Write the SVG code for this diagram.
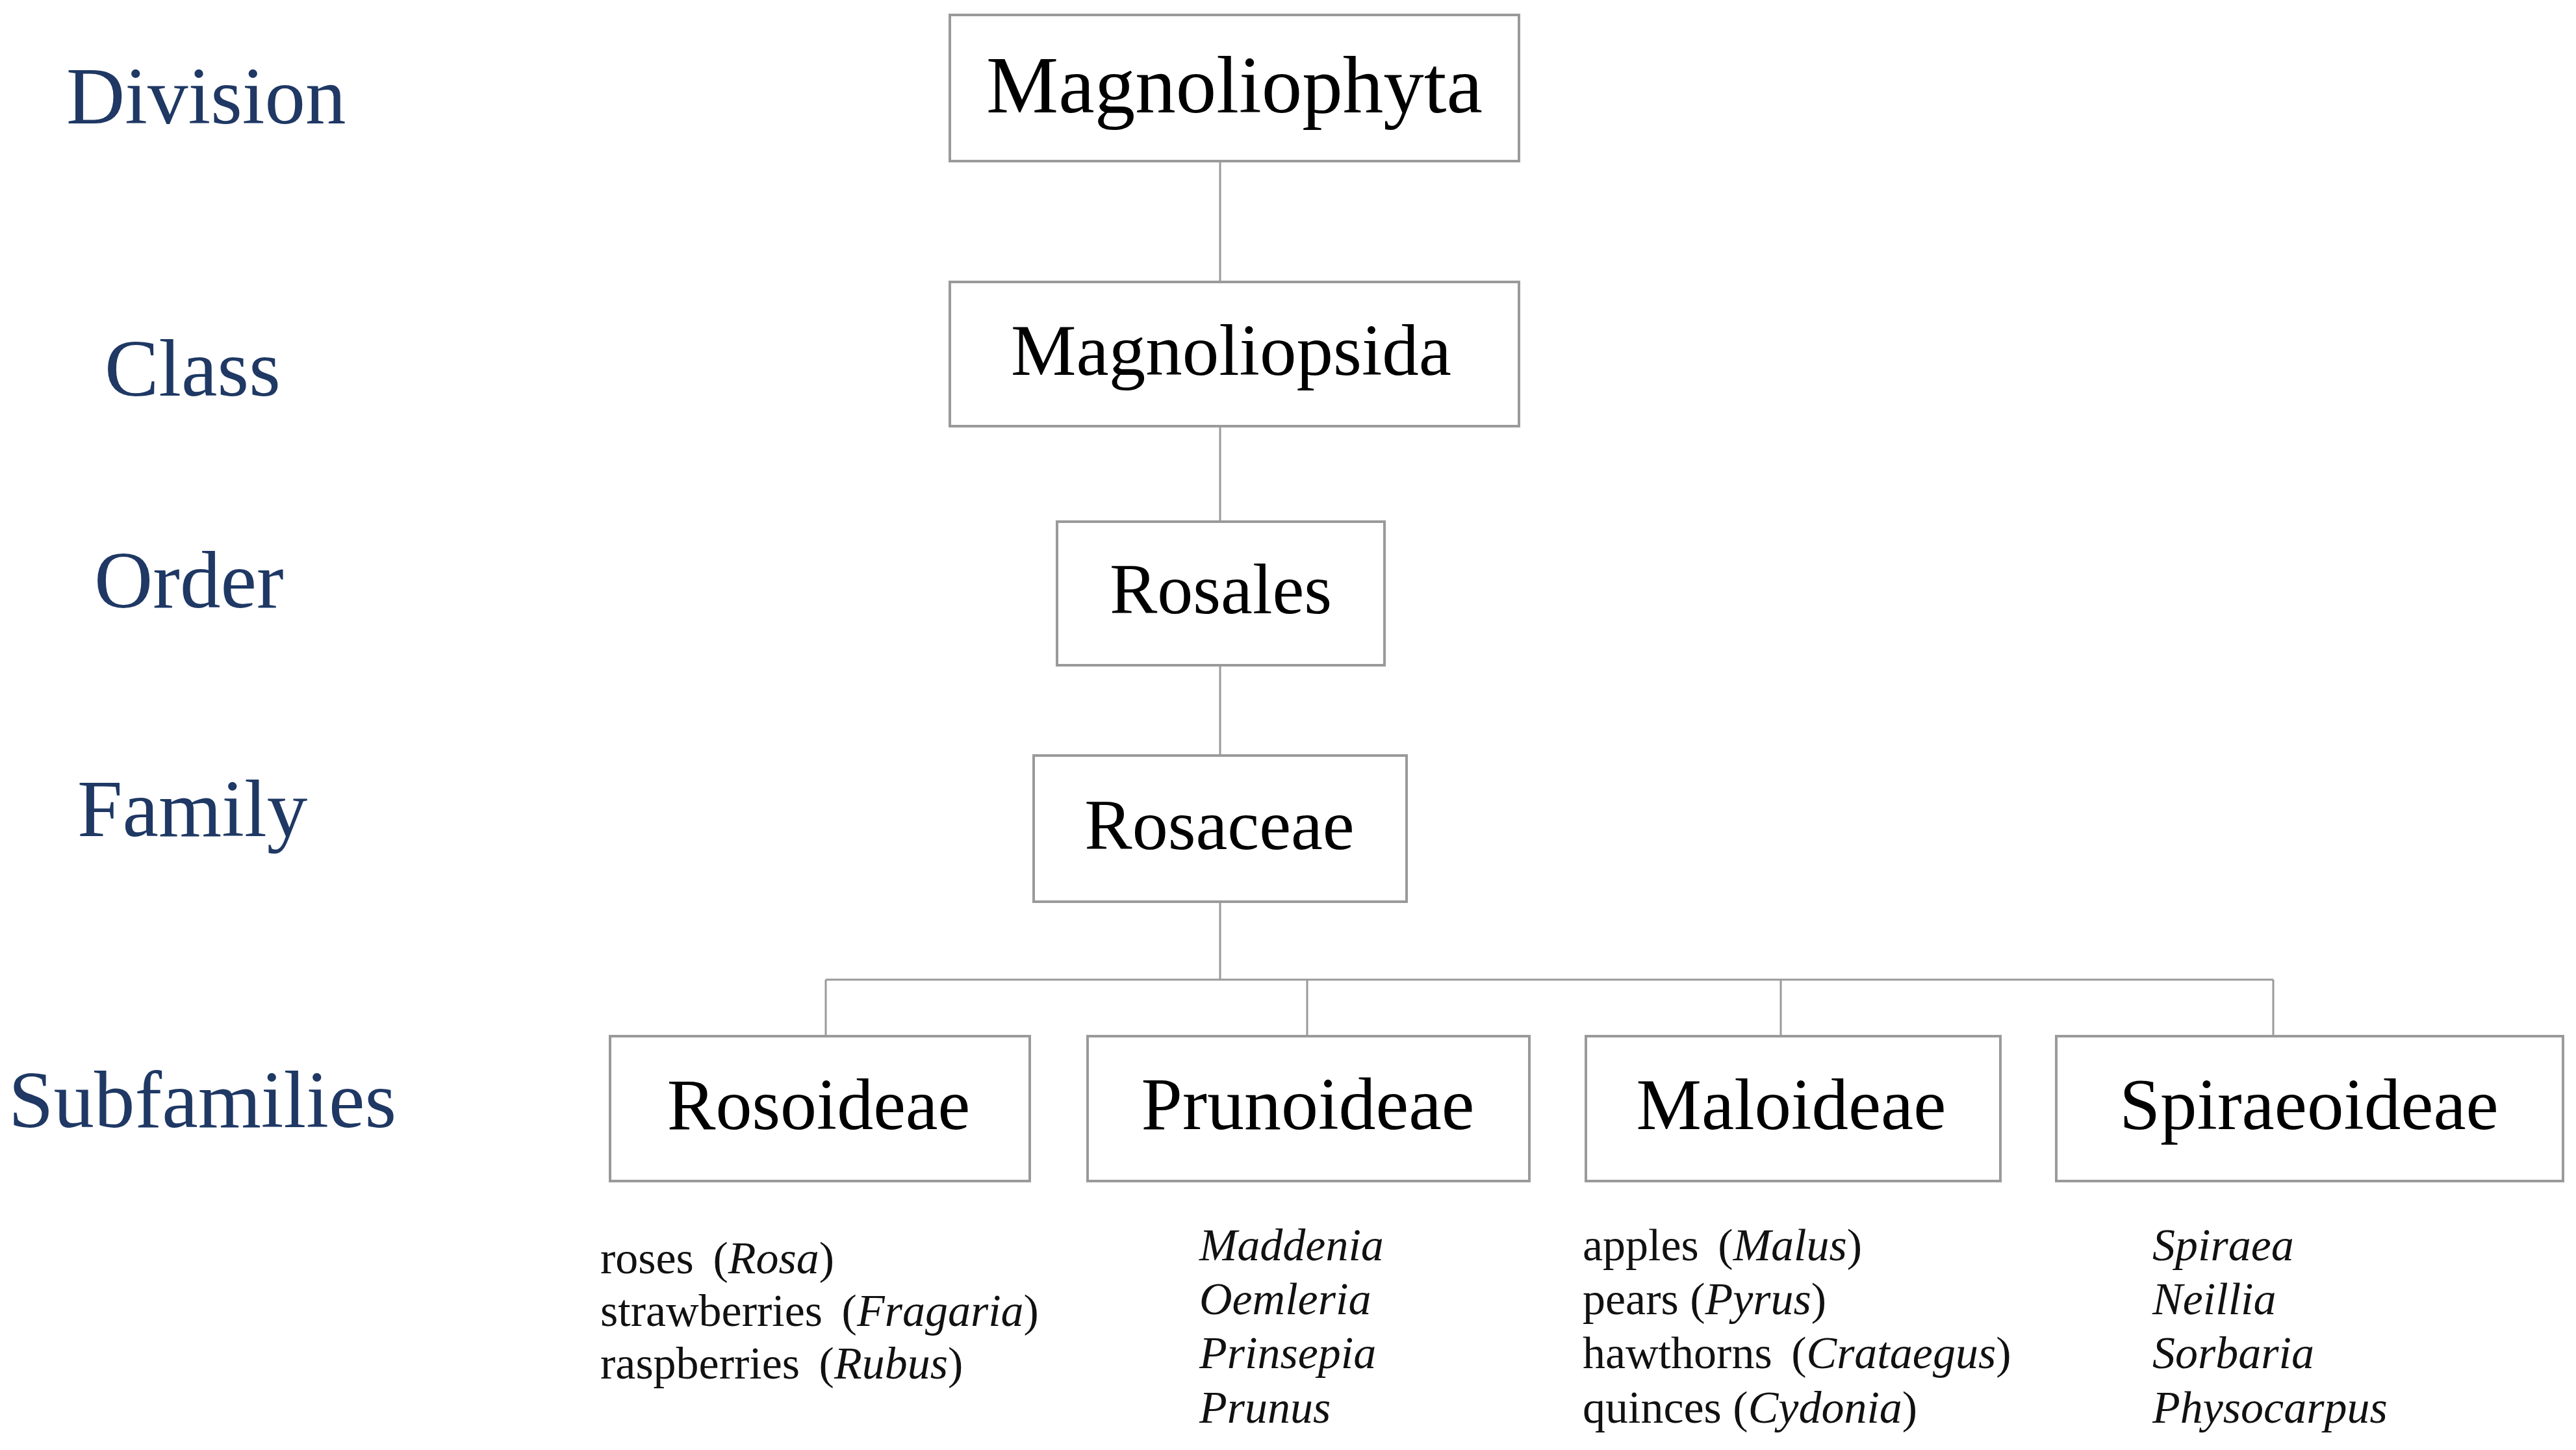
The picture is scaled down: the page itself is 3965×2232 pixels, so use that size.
<svg xmlns="http://www.w3.org/2000/svg" width="3965" height="2232" viewBox="0 0 3965 2232">
  <style>
    .box { fill: #ffffff; stroke: #9a9a9a; stroke-width: 4; }
    .conn { fill: none; stroke: #9a9a9a; stroke-width: 3; }
    .rank { font-family: "Liberation Serif", "Times New Roman", serif; font-size: 125px; fill: #1f3864; }
    .name { font-family: "Liberation Serif", "Times New Roman", serif; fill: #000000; text-anchor: middle; }
    .list { font-family: "Liberation Serif", "Times New Roman", serif; font-size: 70px; fill: #111111; }
    .it { font-style: italic; }
  </style>
  <rect width="3965" height="2232" fill="#ffffff"/>

  <g id="rank-labels">
    <text class="rank" x="102" y="190">Division</text>
    <text class="rank" x="161" y="609">Class</text>
    <text class="rank" x="145" y="935">Order</text>
    <text class="rank" x="119" y="1287">Family</text>
    <text class="rank" x="13" y="1735">Subfamilies</text>
  </g>

  <g id="connectors">
    <line class="conn" x1="1878" y1="248" x2="1878" y2="434"/>
    <line class="conn" x1="1878" y1="656" x2="1878" y2="803"/>
    <line class="conn" x1="1878" y1="1024" x2="1878" y2="1163"/>
    <line class="conn" x1="1878" y1="1388" x2="1878" y2="1508"/>
    <line class="conn" x1="1271" y1="1508" x2="3499" y2="1508"/>
    <line class="conn" x1="1271" y1="1508" x2="1271" y2="1595"/>
    <line class="conn" x1="2012" y1="1508" x2="2012" y2="1595"/>
    <line class="conn" x1="2741" y1="1508" x2="2741" y2="1595"/>
    <line class="conn" x1="3499" y1="1508" x2="3499" y2="1595"/>
  </g>

  <g id="node-magnoliophyta">
    <rect class="box" x="1462" y="23" width="876" height="225"/>
    <text class="name" x="1900" y="173" font-size="125">Magnoliophyta</text>
  </g>
  <g id="node-magnoliopsida">
    <rect class="box" x="1462" y="434" width="876" height="222"/>
    <text class="name" x="1895" y="577" font-size="113">Magnoliopsida</text>
  </g>
  <g id="node-rosales">
    <rect class="box" x="1627" y="803" width="504" height="221"/>
    <text class="name" x="1879" y="944" font-size="110">Rosales</text>
  </g>
  <g id="node-rosaceae">
    <rect class="box" x="1591" y="1163" width="574" height="225"/>
    <text class="name" x="1877" y="1307" font-size="110">Rosaceae</text>
  </g>

  <g id="node-rosoideae">
    <rect class="box" x="939" y="1595" width="646" height="223"/>
    <text class="name" x="1260" y="1738" font-size="112">Rosoideae</text>
  </g>
  <g id="node-prunoideae">
    <rect class="box" x="1674" y="1595" width="680" height="223"/>
    <text class="name" x="2013" y="1738" font-size="114">Prunoideae</text>
  </g>
  <g id="node-maloideae">
    <rect class="box" x="2441" y="1595" width="638" height="223"/>
    <text class="name" x="2757" y="1738" font-size="113">Maloideae</text>
  </g>
  <g id="node-spiraeoideae">
    <rect class="box" x="3165" y="1595" width="780" height="223"/>
    <text class="name" x="3554" y="1738" font-size="113">Spiraeoideae</text>
  </g>

  <g id="list-rosoideae">
    <text class="list" x="924" y="1960">roses <tspan dx="12">(</tspan><tspan class="it">Rosa</tspan>)</text>
    <text class="list" x="924" y="2041">strawberries <tspan dx="12">(</tspan><tspan class="it">Fragaria</tspan>)</text>
    <text class="list" x="924" y="2122">raspberries <tspan dx="12">(</tspan><tspan class="it">Rubus</tspan>)</text>
  </g>
  <g id="list-prunoideae">
    <text class="list it" x="1846" y="1940">Maddenia</text>
    <text class="list it" x="1846" y="2023">Oemleria</text>
    <text class="list it" x="1846" y="2106">Prinsepia</text>
    <text class="list it" x="1846" y="2190">Prunus</text>
  </g>
  <g id="list-maloideae">
    <text class="list" x="2436" y="1940">apples <tspan dx="12">(</tspan><tspan class="it">Malus</tspan>)</text>
    <text class="list" x="2436" y="2023">pears <tspan>(</tspan><tspan class="it">Pyrus</tspan>)</text>
    <text class="list" x="2436" y="2106">hawthorns <tspan dx="12">(</tspan><tspan class="it">Crataegus</tspan>)</text>
    <text class="list" x="2436" y="2190">quinces <tspan>(</tspan><tspan class="it">Cydonia</tspan>)</text>
  </g>
  <g id="list-spiraeoideae">
    <text class="list it" x="3313" y="1940">Spiraea</text>
    <text class="list it" x="3313" y="2023">Neillia</text>
    <text class="list it" x="3313" y="2106">Sorbaria</text>
    <text class="list it" x="3313" y="2190">Physocarpus</text>
  </g>
</svg>
